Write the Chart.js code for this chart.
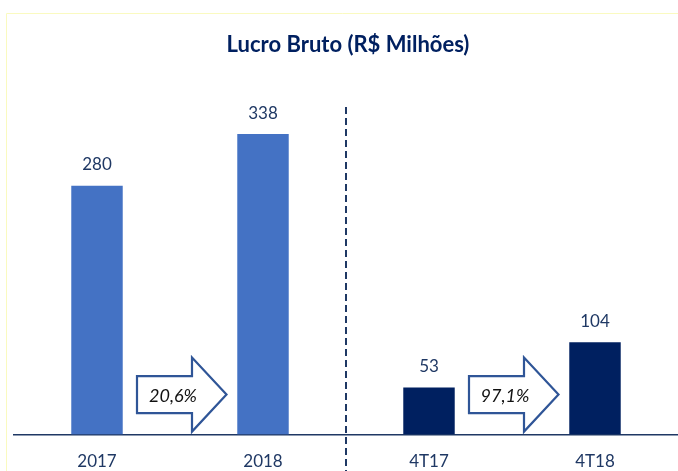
<!DOCTYPE html>
<html><head><meta charset="utf-8">
<script src="https://cdn.jsdelivr.net/npm/chart.js@4"></script>
<style>html,body{margin:0;padding:0;background:#fff}#wrap{width:678px;height:471px;position:relative;overflow:hidden}</style>
</head><body><div id="wrap"><canvas id="c" width="678" height="471"></canvas></div>
<script>
const categories = ['2017', '2018', '4T17', '4T18'];
const lucroBruto = [280, 338, 53, 104];
const valueLabels = ['280', '338', '53', '104'];
const growthLabels = ['20,6%', '97,1%'];
const growthPairs = [[0, 1], [2, 3]];

const LIGHT = '#4472C4', DARK = '#002060', NAVY = '#1F3864', ARROW = '#2F5597';

const decor = {
  id: 'decor',
  beforeDraw(chart) {
    const ctx = chart.ctx;
    ctx.save();
    ctx.strokeStyle = '#FAFAC0';
    ctx.lineWidth = 1;
    ctx.beginPath();
    ctx.moveTo(6.5, chart.height); ctx.lineTo(6.5, 13.5); ctx.lineTo(chart.width, 13.5);
    ctx.stroke();
    ctx.restore();
  },
  afterDraw(chart) {
    const { ctx, chartArea, scales: { x } } = chart;
    const meta = chart.getDatasetMeta(0);
    ctx.save();
    ctx.font = '17px Lato';
    ctx.fillStyle = NAVY;
    ctx.textAlign = 'center';
    ctx.textBaseline = 'middle';
    meta.data.forEach((bar, i) => ctx.fillText(valueLabels[i], bar.x, bar.y - 21));

    const sx = (x.getPixelForValue(1) + x.getPixelForValue(2)) / 2;
    ctx.strokeStyle = NAVY;
    ctx.lineWidth = 2;
    ctx.setLineDash([7, 4]);
    ctx.beginPath();
    ctx.moveTo(sx, 107); ctx.lineTo(sx, chart.height);
    ctx.stroke();
    ctx.setLineDash([]);

    growthPairs.forEach(([a, b], k) => {
      const m = (x.getPixelForValue(a) + x.getPixelForValue(b)) / 2;
      const cy = chartArea.bottom - 40;
      ctx.beginPath();
      ctx.moveTo(m - 43, cy - 18.5);
      ctx.lineTo(m + 12, cy - 18.5);
      ctx.lineTo(m + 12, cy - 37);
      ctx.lineTo(m + 46.5, cy);
      ctx.lineTo(m + 12, cy + 37);
      ctx.lineTo(m + 12, cy + 18.5);
      ctx.lineTo(m - 43, cy + 18.5);
      ctx.closePath();
      ctx.fillStyle = '#fff';
      ctx.fill();
      ctx.lineJoin = 'miter';
      ctx.strokeStyle = ARROW;
      ctx.lineWidth = 2.2;
      ctx.stroke();
      ctx.fillStyle = '#111';
      ctx.font = 'italic 18px Lato';
      ctx.fillText(growthLabels[k], m - 7, cy + 2);
    });
    ctx.restore();
  }
};

new Chart(document.getElementById('c'), {
  type: 'bar',
  data: {
    labels: categories,
    datasets: [{
      data: lucroBruto,
      backgroundColor: (c) => c.dataIndex < 2 ? LIGHT : DARK,
      barPercentage: 0.31,
      categoryPercentage: 1
    }]
  },
  options: {
    responsive: false,
    devicePixelRatio: 1,
    animation: false,
    layout: { padding: { left: 14, right: -4, top: 0, bottom: -17 } },
    plugins: {
      legend: { display: false },
      tooltip: { enabled: false },
      title: {
        display: true,
        text: 'Lucro Bruto (R$ Milhões)',
        color: DARK,
        font: { family: 'Lato', size: 22, weight: 'bold', lineHeight: 1.2 },
        padding: { top: 32, bottom: 20.6 }
      }
    },
    scales: {
      y: { display: false, min: 0, max: 400 },
      x: {
        grid: { display: false, drawTicks: false },
        border: { display: true, color: NAVY, width: 1.5 },
        ticks: { color: NAVY, font: { family: 'Lato', size: 17 }, padding: 16.5 }
      }
    }
  },
  plugins: [decor]
});
</script>
</body></html>
